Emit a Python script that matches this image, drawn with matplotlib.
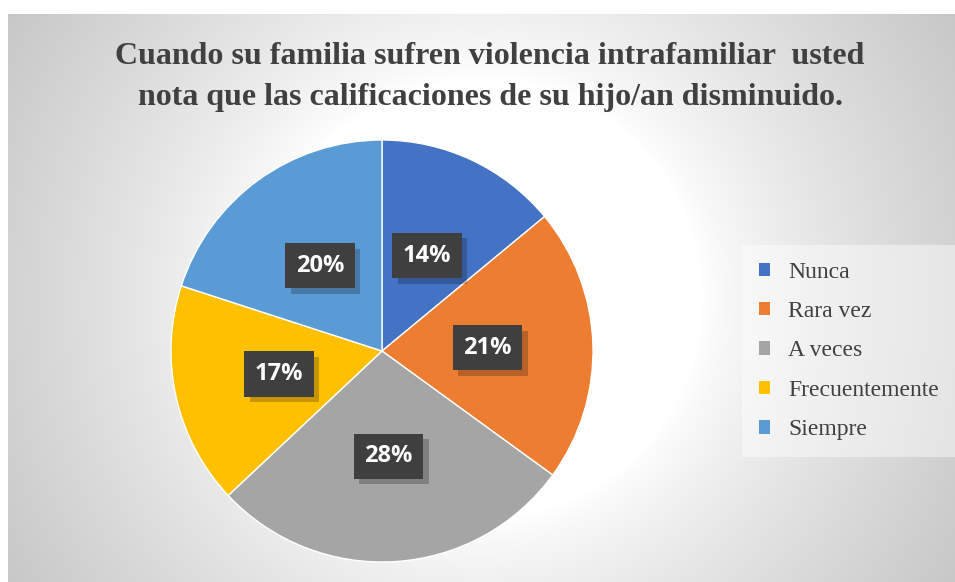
import numpy as np
import matplotlib
matplotlib.use('Agg')
import matplotlib.pyplot as plt
import matplotlib.patheffects as pe

# data
categories = ['Nunca', 'Rara vez', 'A veces', 'Frecuentemente', 'Siempre']
values = [14, 21, 28, 17, 20]
colors = ['#4472C4', '#ED7D31', '#A5A5A5', '#FFC000', '#5B9BD5']
title = 'Cuando su familia sufren violencia intrafamiliar  usted\nnota que las calificaciones de su hijo/an disminuido.'

W, H = 955, 582

fig = plt.figure(figsize=(W / 100, H / 100), dpi=100)
fig.patch.set_facecolor('white')

# chart area background: radial grey gradient
x0, y0 = 8, 14
bg = fig.add_axes([x0 / W, 0, (W - x0) / W, (H - y0) / H])
xx, yy = np.meshgrid(np.arange(x0, W), np.arange(y0, H))
d = np.hypot(xx - 481, yy - 298)
t = np.clip((d - 220) / 330, 0, 1) ** 0.8
g = (255 - 55 * t) / 255
img = np.dstack([g, g, g])
bg.imshow(img, aspect='auto', interpolation='bilinear')
bg.set_axis_off()

fig.text(490 / W, 1 - 77 / H, title, ha='center', va='center',
         fontsize=23, fontweight='bold', family='Liberation Serif',
         color='#404040', linespacing=1.55)

# pie
cx, cy, r = 382, 351, 211
ax = fig.add_axes([(cx - r) / W, (H - cy - r) / H, 2 * r / W, 2 * r / H])
wedges, texts, autotexts = ax.pie(values, colors=colors, startangle=90, counterclock=False,
                                  autopct=lambda p: '%d%%' % round(p), pctdistance=0.5,
                                  wedgeprops=dict(linewidth=1, edgecolor='white'))
ax.set_xlim(-1, 1)
ax.set_ylim(-1, 1)
ax.set_aspect('equal')

# dark label boxes with drop shadow
for at in autotexts:
    at.set(fontsize=17, fontweight='bold', family='Open Sans', color='white')
    at.set_bbox(dict(boxstyle='square,pad=0.45', facecolor='#3f3f3f', linewidth=0))
    at.get_bbox_patch().set_path_effects([
        pe.SimplePatchShadow(offset=(4, -4), shadow_rgbFace='black', alpha=0.22),
        pe.Normal()])

leg = fig.legend(wedges, categories, loc='center left',
                 bbox_to_anchor=(742 / W, 1 - 351 / H),
                 prop={'family': 'Liberation Serif', 'size': 17},
                 frameon=True, fancybox=False, framealpha=0.45, edgecolor='none',
                 handlelength=0.5, handleheight=0.5, handletextpad=0.75,
                 labelspacing=0.78, borderpad=0.7, borderaxespad=0)
leg.get_frame().set_facecolor('white')
for txt in leg.get_texts():
    txt.set_color('#404040')
for h in leg.legend_handles:
    h.set_edgecolor('none')

fig.savefig('out.png', dpi=100)
